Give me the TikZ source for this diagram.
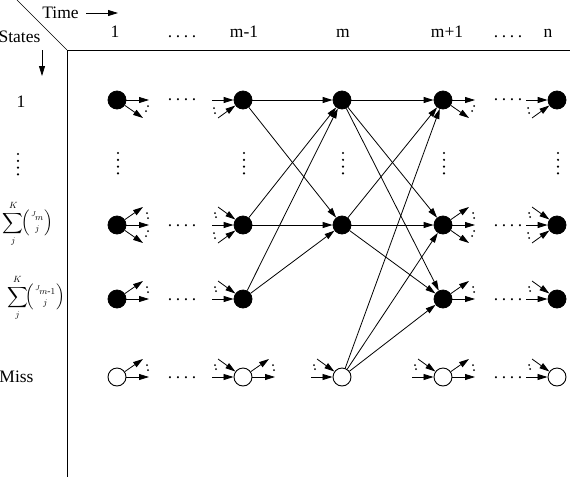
\documentclass[tikz,border=0pt]{standalone}
\usepackage{amsmath}
\usepackage{fontspec}
\setmainfont{Liberation Serif}
\usetikzlibrary{arrows.meta,calc}
\tikzset{
  arr/.style={line width=0.8pt,-{Triangle[length=10pt,width=6pt]}},
  fullst/.style={circle,fill=black,draw=black,line width=0.8pt,minimum size=18pt,inner sep=0pt},
  openst/.style={circle,fill=white,draw=black,line width=0.9pt,minimum size=18pt,inner sep=0pt},
  lbl/.style={font=\fontsize{17.5}{19}\selectfont,inner sep=0pt},
  sumlbl/.style={font=\fontsize{13.5}{16}\selectfont,inner sep=0pt},
  frame/.style={line width=1pt},
}
\newcommand\outR[1]{\coordinate (#1-oR) at ($(#1)+(32,0)$); \draw[arr] (#1) -- (#1-oR);}
\newcommand\outU[1]{\coordinate (#1-oU) at ($(#1)+(26,-18)$); \draw[arr] (#1) -- (#1-oU);}
\newcommand\outD[1]{\coordinate (#1-oD) at ($(#1)+(26,18)$); \draw[arr] (#1) -- (#1-oD);}
\newcommand\inL[1]{\coordinate (#1-iL) at ($(#1)+(-31,0)$); \draw[arr] (#1-iL) -- (#1);}
\newcommand\inU[1]{\coordinate (#1-iU) at ($(#1)+(-25,-18)$); \draw[arr] (#1-iU) -- (#1);}
\newcommand\inD[1]{\coordinate (#1-iD) at ($(#1)+(-25,18)$); \draw[arr] (#1-iD) -- (#1);}
\newcommand\dOU[1]{\fill ($(#1)+(30,-12)$) circle (1pt); \fill ($(#1)+(31,-7)$) circle (1pt);}
\newcommand\dOD[1]{\fill ($(#1)+(31,6)$) circle (1pt); \fill ($(#1)+(29,11)$) circle (1pt);}
\newcommand\dIU[1]{\fill ($(#1)+(-28,-12)$) circle (1pt); \fill ($(#1)+(-27,-8)$) circle (1pt);}
\newcommand\dID[1]{\fill ($(#1)+(-29,8)$) circle (1pt); \fill ($(#1)+(-28,13)$) circle (1pt);}
\newcommand\vdotsat[2]{\foreach \k in {0,1,2,3}{\fill (#1,#2+6.8*\k) circle (1.2pt);}}
\newcommand\fourdots{.\kern3.6pt.\kern3.6pt.\kern3.6pt.}
\newcommand\sumlabel[1]{$\displaystyle\sum_{j}^{K}\!\Bigl(\genfrac{}{}{0pt}{1}{#1}{j}\Bigr)$}
\begin{document}
\begin{tikzpicture}[x=1pt,y=-1pt]
\useasboundingbox (0,0) rectangle (570,477);
% frame
\coordinate (fc) at (67,50);
\coordinate (fd) at (17,0);
\coordinate (fr) at (570,50);
\coordinate (fb) at (67,477);
\draw[frame] (fc) -- (fr);
\draw[frame] (fc) -- (fb);
\draw[line width=0.6pt] (fd) -- (fc);
% header
\node[lbl] (time) at (60.5,13) {Time};
\coordinate (ta) at (86,13);
\coordinate (tb) at (118,13);
\draw[arr] (ta) -- (tb);
\node[lbl] (states) at (19.5,37) {States};
\coordinate (sa) at (42,50);
\coordinate (sb) at (42,76);
\draw[arr] (sa) -- (sb);
\node[lbl,anchor=base] (c1) at (115,37) {1};
\node[lbl,anchor=base] (cd1) at (182,37) {\fourdots};
\node[lbl,anchor=base] (cm1) at (244,37) {m-1};
\node[lbl,anchor=base] (cm) at (343,37) {m};
\node[lbl,anchor=base] (cp1) at (447,37) {m+1};
\node[lbl,anchor=base] (cd2) at (508,37) {\fourdots};
\node[lbl,anchor=base] (cn) at (548,37) {n};
% row labels
\node[lbl,anchor=base] (l1) at (21,107) {1};
\vdotsat{18}{154}
\node[sumlbl] (l3) at (28,224) {\sumlabel{{}^{J}\!m}};
\node[sumlbl] (l4) at (36,298) {\sumlabel{{}^{J}\!m\text{-}1}};
\node[lbl] (lm) at (16.5,377) {Miss};
% states
\foreach \c/\x in {A/117,B/243,C/342,D/443,E/557}{
  \node[fullst] (\c1) at (\x,100) {};
  \node[fullst] (\c3) at (\x,225) {};
  \node[openst] (\c M) at (\x,377) {};
  \vdotsat{\x+1}{153}
}
\foreach \c/\x in {A/117,B/243,D/443,E/557}{
  \node[fullst] (\c4) at (\x,299) {};
}
% horizontal dots between columns
\foreach \x in {182,508}{
  \node[lbl,anchor=base] at (\x,100) {\fourdots};
  \node[lbl,anchor=base] at (\x,226) {\fourdots};
  \node[lbl,anchor=base] at (\x,300) {\fourdots};
  \node[lbl,anchor=base] at (\x,378) {\fourdots};
}
% main transitions
\draw[arr] (B1) -- (C1);
\draw[arr] (B1) -- (C3);
\draw[arr] (B3) -- (C1);
\draw[arr] (B3) -- (C3);
\draw[arr] (B4) -- (C1);
\draw[arr] (B4) -- (C3);
\draw[arr] (C1) -- (D1);
\draw[arr] (C1) -- (D3);
\draw[arr] (C1) -- (D4);
\draw[arr] (C3) -- (D1);
\draw[arr] (C3) -- (D3);
\draw[arr] (C3) -- (D4);
\draw[arr] (CM) -- (D1);
\draw[arr] (CM) -- (D3);
\draw[arr] (CM) -- (D4);
% column 1 outgoing stubs
\outR{A1}\outD{A1}\dOD{A1}
\outU{A3}\outR{A3}\outD{A3}\dOU{A3}\dOD{A3}
\outU{A4}\outR{A4}\dOU{A4}
\outU{AM}\outR{AM}\dOU{AM}
% column m-1 incoming stubs
\inL{B1}\inD{B1}\dID{B1}
\inU{B3}\inL{B3}\inD{B3}\dIU{B3}\dID{B3}
\inU{B4}\inL{B4}\dIU{B4}
\inU{BM}\inL{BM}\dIU{BM}
\outU{BM}\outR{BM}\dOU{BM}
% column m
\inU{CM}\inL{CM}\dIU{CM}
% column m+1
\outR{D1}\outD{D1}\dOD{D1}
\outU{D3}\outR{D3}\outD{D3}\dOU{D3}\dOD{D3}
\outU{D4}\outR{D4}\dOU{D4}
\inU{DM}\inL{DM}\dIU{DM}
\outU{DM}\outR{DM}\dOU{DM}
% column n
\inL{E1}\inD{E1}\dID{E1}
\inU{E3}\inL{E3}\inD{E3}\dIU{E3}\dID{E3}
\inU{E4}\inL{E4}\dIU{E4}
\inU{EM}\inL{EM}\dIU{EM}
\end{tikzpicture}
\end{document}
